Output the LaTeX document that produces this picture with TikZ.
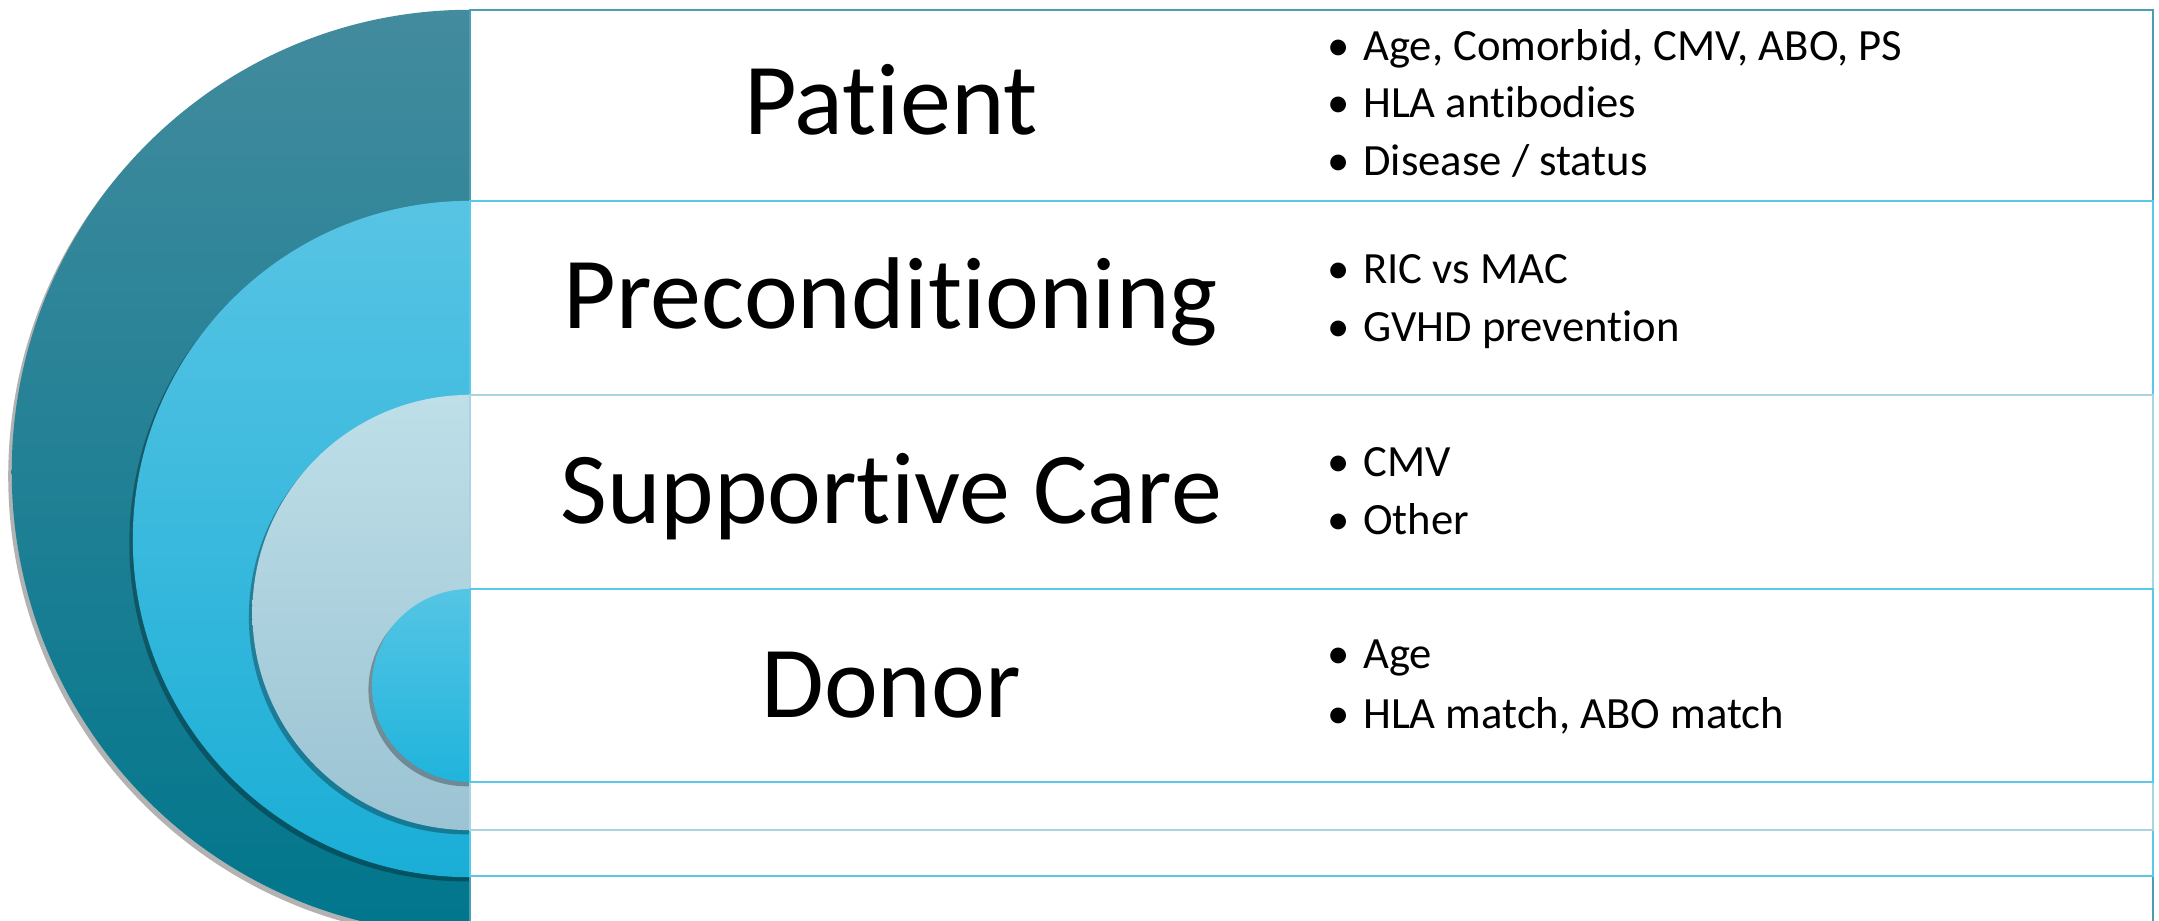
\documentclass[tikz,border=0pt]{standalone}
\usepackage{fontspec}
\setmainfont{Carlito}[Ligatures=NoCommon]
\usetikzlibrary{shadows}

\definecolor{ringAtop}{RGB}{67,139,158}
\definecolor{ringAbot}{RGB}{0,118,140}
\definecolor{ringBtop}{RGB}{88,196,228}
\definecolor{ringBbot}{RGB}{26,174,214}
\definecolor{ringCtop}{RGB}{190,223,232}
\definecolor{ringCbot}{RGB}{155,195,211}
\definecolor{ringDtop}{RGB}{85,197,229}
\definecolor{ringDbot}{RGB}{32,180,220}
\definecolor{lineA}{RGB}{75,158,178}
\definecolor{lineB}{RGB}{90,200,232}
\definecolor{lineC}{RGB}{170,212,224}

\begin{document}
\begin{tikzpicture}[
        x=0.01cm,
        y=-0.01cm,
        ring/.style={drop shadow={shadow xshift=-1pt, shadow yshift=-1.2pt, opacity=0.3, fill=black}},
        band/.style={fill=white, line width=0.8pt},
        title/.style={anchor=base, inner sep=0pt, font=\fontsize{29}{35}\selectfont},
        item/.style={anchor=base west, inner sep=0pt, font=\fontsize{12.7}{16}\selectfont,
            execute at begin node={\makebox[0.8em][l]{\textbullet}}}
    ]
        \useasboundingbox (0,0) rectangle (2159,920);

        % rings, outer to inner
        \path[ring, top color=ringAtop, bottom color=ringAbot] (470,472) ellipse [x radius=4.58cm, y radius=4.62cm];
        \path[ring, top color=ringBtop, bottom color=ringBbot] (470,539) ellipse [x radius=3.37cm, y radius=3.38cm];
        \path[ring, top color=ringCtop, bottom color=ringCbot] (470,612.5) ellipse [x radius=2.175cm, y radius=2.175cm];
        \path[ring, top color=ringDtop, bottom color=ringDbot] (470,685.5) ellipse [x radius=0.98cm, y radius=0.965cm];

        % white bands over the right halves
        \draw[band, draw=lineA] (470,10) rectangle (2153,940);
        \draw[band, draw=lineB] (470,201) rectangle (2153,876);
        \draw[band, draw=lineC] (470,395) rectangle (2153,830);
        \draw[band, draw=lineB] (470,589) rectangle (2153,782);

        \node[title] (patient) at (891,134) {Patient};
        \node[title] (precond) at (891,328) {Preconditioning};
        \node[title] (support) at (891,523) {Supportive Care};
        \node[title] (donor) at (891,717) {Donor};

        \node[item] (pat1) at (1327,60) {Age, Comorbid, CMV, ABO, PS};
        \node[item] (pat2) at (1327,117) {HLA antibodies};
        \node[item] (pat3) at (1327,175) {Disease / status};
        \node[item] (pre1) at (1327,283) {RIC vs MAC};
        \node[item] (pre2) at (1327,341) {GVHD prevention};
        \node[item] (sup1) at (1327,476) {CMV};
        \node[item] (sup2) at (1327,534) {Other};
        \node[item] (don1) at (1327,668) {Age};
        \node[item] (don2) at (1327,728) {HLA match, ABO match};

    \end{tikzpicture}
\end{document}
